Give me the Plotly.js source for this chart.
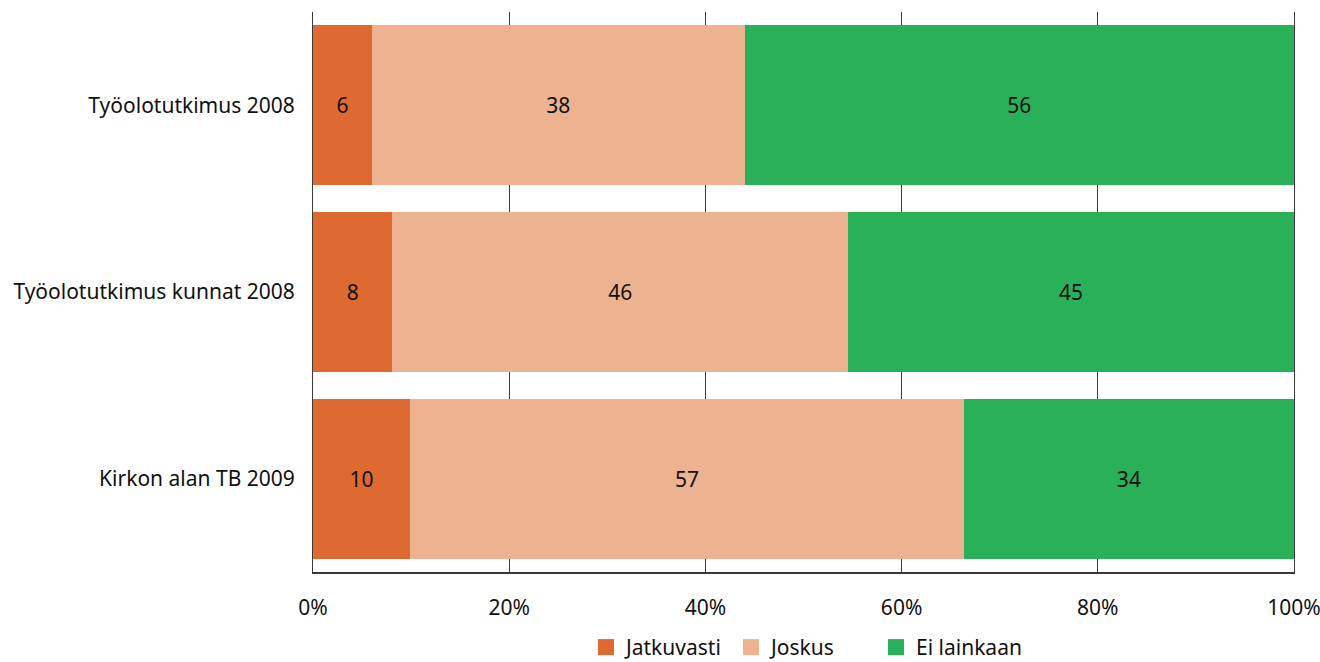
<!DOCTYPE html>
<html>
<head>
<meta charset="utf-8">
<script src="https://cdn.plot.ly/plotly-3.0.1.min.js"></script>
<style>html,body{margin:0;padding:0;background:#fff;}#chart{width:1320px;height:662px;}</style>
</head>
<body>
<div id="chart"></div>
<script>
const categories = ["Työolotutkimus 2008", "Työolotutkimus kunnat 2008", "Kirkon alan TB 2009"];
const seriesNames = ["Jatkuvasti", "Joskus", "Ei lainkaan"];
const jatkuvasti = [6, 8, 10];
const joskus = [38, 46, 57];
const eiLainkaan = [56, 45, 34];
const tickVals = [0, 20, 40, 60, 80, 100];
const tickLabels = ["0%", "20%", "40%", "60%", "80%", "100%"];

const colors = ["#DE6A31", "#EDB290", "#2BB05A"];
const seriesValues = [jatkuvasti, joskus, eiLainkaan];
const FONT = "Noto Sans, Open Sans, sans-serif";

const traces = seriesValues.map((vals, i) => ({
  type: "bar",
  orientation: "h",
  name: seriesNames[i],
  y: categories,
  x: vals,
  text: vals.map(String),
  textposition: "inside",
  insidetextanchor: "middle",
  textangle: 0,
  textfont: {color: "#111", size: 21, family: FONT},
  marker: {color: colors[i], line: {width: 0}},
  showlegend: false,
  hoverinfo: "skip"
}));

// legend-only entries with larger square swatches
seriesNames.forEach((name, i) => {
  traces.push({
    type: "scatter",
    mode: "markers",
    name: name,
    x: [null], y: [null],
    marker: {symbol: "square", size: 22, color: colors[i]},
    showlegend: true,
    hoverinfo: "skip"
  });
});

const layout = {
  width: 1320, height: 662,
  margin: {l: 313, r: 26, t: 12, b: 90},
  paper_bgcolor: "#fff", plot_bgcolor: "#fff",
  barmode: "stack",
  barnorm: "percent",
  bargap: 0.143,
  font: {family: FONT, size: 21, color: "#111"},
  xaxis: {
    range: [0, 100],
    tickvals: tickVals,
    ticktext: tickLabels,
    showgrid: true,
    gridcolor: "#3a3a3a",
    gridwidth: 1,
    zeroline: false,
    showline: true,
    linecolor: "#3a3a3a",
    linewidth: 1.5,
    ticks: "",
    ticklabelstandoff: 16,
    ticklabeloverflow: "allow",
    tickfont: {size: 21, color: "#111", family: FONT},
    fixedrange: true
  },
  yaxis: {
    autorange: "reversed",
    showgrid: false,
    zeroline: false,
    showline: true,
    mirror: true,
    linecolor: "#3a3a3a",
    linewidth: 1,
    layer: "below traces",
    ticks: "",
    ticklabelstandoff: 13,
    tickfont: {size: 21, color: "#111", family: FONT},
    fixedrange: true
  },
  legend: {
    orientation: "h",
    traceorder: "normal",
    itemsizing: "trace",
    x: 0.5, xanchor: "center",
    xref: "paper",
    yref: "container",
    y: 0.022, yanchor: "middle",
    font: {size: 21, color: "#111", family: FONT},
    itemwidth: 30,
    entrywidth: 100,
    entrywidthmode: "pixels",
    tracegroupgap: 0
  },
  showlegend: true
};

Plotly.newPlot("chart", traces, layout, {displayModeBar: false, staticPlot: true});
</script>
</body>
</html>
